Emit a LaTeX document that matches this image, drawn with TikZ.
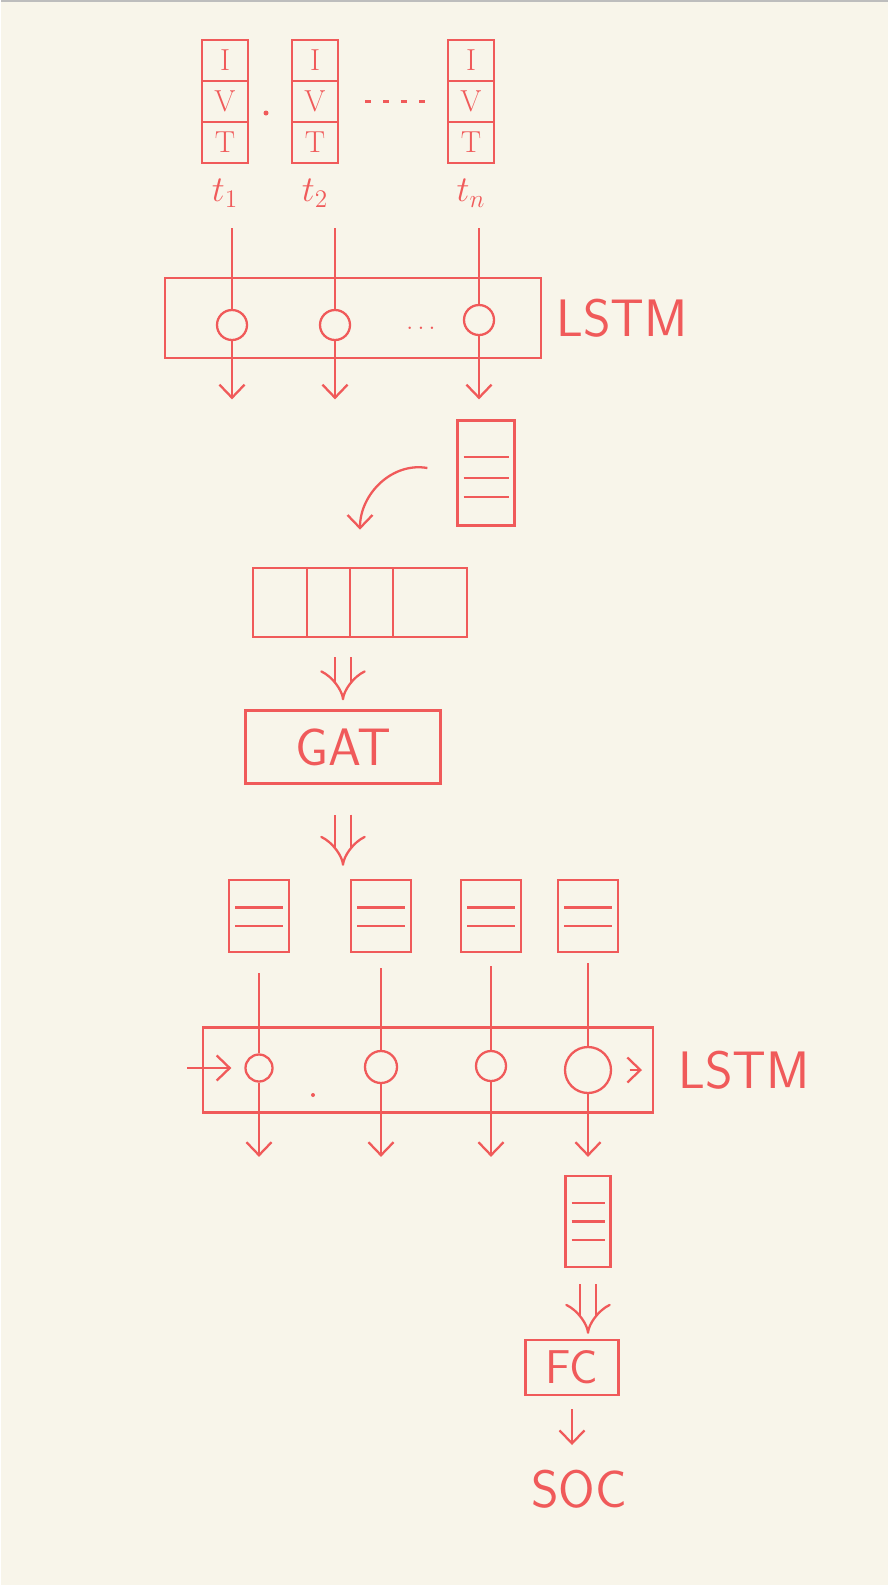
\documentclass[tikz,border=0pt]{standalone}
\usepackage{fontspec}
\usetikzlibrary{arrows.meta,positioning,fit,calc}
\definecolor{pen}{HTML}{F05A5A}
\definecolor{paper}{HTML}{F8F5EA}
\definecolor{rim}{HTML}{BDBDBD}
\tikzset{
  ln/.style={draw=pen,line width=1.3pt},
  arr/.style={ln,-{Straight Barb[length=2.6mm,width=5mm]}},
  dbl/.style={draw=pen,line width=1.3pt,double=paper,double distance=8pt,-{Implies[length=4.5mm,width=10mm]}},
  cell/.style={ln,minimum width=9.2mm,minimum height=8.2mm,inner sep=0pt,outer sep=0pt,text=pen,font=\LARGE},
  rowc/.style={ln,minimum height=13.8mm,inner sep=0pt,outer sep=0pt},
  blk/.style={ln,inner sep=0pt},
  unit/.style={ln,circle,minimum size=6mm,inner sep=0pt},
  lbl/.style={text=pen,font=\huge},
  hand/.style={text=pen,inner sep=0pt,font=\sffamily\fontsize{30}{36}\selectfont},
  speck/.style={circle,fill=pen,inner sep=0pt,minimum size=1mm},
  listbox/.style={ln,minimum width=12mm,minimum height=14.4mm,inner sep=0pt,
    path picture={\foreach \f in {#1}
      \draw[ln] ($(path picture bounding box.north west)!\f!(path picture bounding box.south west)+(1.2mm,0mm)$)
        -- ($(path picture bounding box.north east)!\f!(path picture bounding box.south east)+(-1.2mm,0mm)$);}},
}
\begin{document}
\begin{tikzpicture}[x=0.2mm,y=-0.2mm]
  \fill[paper] (0,0) rectangle (887,1585);
  \draw[rim,line width=0.4mm] (0,1) -- (887,1);

  % I/V/T per time step
  \node[cell] (cur1) at (224,60.5) {I};
  \node[cell,below=0pt of cur1] (vol1) {V};
  \node[cell,below=0pt of vol1] (tmp1) {T};
  \node[cell] (cur2) at (314,60.5) {I};
  \node[cell,below=0pt of cur2] (vol2) {V};
  \node[cell,below=0pt of vol2] (tmp2) {T};
  \node[cell] (curn) at (470,60.5) {I};
  \node[cell,below=0pt of curn] (voln) {V};
  \node[cell,below=0pt of voln] (tmpn) {T};
  \node[lbl,below=2mm of tmp1] (t1) {$t_1$};
  \node[lbl,below=2mm of tmp2] (t2) {$t_2$};
  \node[lbl,below=2mm of tmpn] (tn) {$t_n$};
  \node[speck] (gap) at (265,113) {};
  \draw[ln,dash pattern=on 1.2mm off 2.4mm,shorten <=5.4mm,shorten >=4mm] (vol2.east) -- (voln.west);

  % first LSTM
  \node[blk,minimum width=75.2mm,minimum height=16mm] (lstmA) at (352,318) {};
  \node[hand,right=2.8mm of lstmA] (labA) {LSTM};
  \node[unit] (a1) at (231,325) {};
  \node[unit] (a2) at (334,325) {};
  \node[unit] (an) at (478,320) {};
  \node[lbl,font=\Large] (adots) at (420,328) {$\ldots$};
  \draw[ln,shorten <=3mm] (a1 |- t1.south) -- (a1);
  \draw[ln,shorten <=3mm] (a2 |- t2.south) -- (a2);
  \draw[ln,shorten <=3mm] (an |- tn.south) -- (an);

  \node[listbox={0.35,0.55,0.73},minimum width=11.4mm,minimum height=21mm] (hA) at (485,473) {};
  \draw[arr,shorten >=4mm] (a1) -- (a1 |- hA.north);
  \draw[arr,shorten >=4mm] (a2) -- (a2 |- hA.north);
  \draw[arr,shorten >=4mm] (an) -- (an |- hA.north);

  % reshaped row
  \node[rowc,minimum width=10.8mm] (r1) at (279,602.5) {};
  \node[rowc,minimum width=8.6mm,right=0pt of r1] (r2) {};
  \node[rowc,minimum width=8.6mm,right=0pt of r2] (r3) {};
  \node[rowc,minimum width=14.8mm,right=0pt of r3] (r4) {};
  \node[fit=(r1)(r4),inner sep=0pt] (row) {};
  \draw[arr] ([shift={(-29,-5)}]hA.west) to[out=170,in=90] ([yshift=7.6mm]row.north);

  % GAT
  \node[blk,hand,minimum width=39mm,minimum height=14.6mm] (gat) at (342,747) {GAT};
  \draw[dbl,shorten <=4mm,shorten >=1.8mm] (gat.north |- row.south) -- (gat.north);

  \node[listbox={0.38,0.64}] (g1) at (258,916) {};
  \node[listbox={0.38,0.64}] (g2) at (380,916) {};
  \node[listbox={0.38,0.64}] (g3) at (490,916) {};
  \node[listbox={0.38,0.64}] (g4) at (587,916) {};
  \draw[dbl,shorten <=6mm,shorten >=2.6mm] (gat.south) -- (gat.south |- g2.north);

  % second LSTM
  \node[blk,minimum width=90mm,minimum height=17mm] (lstmB) at (427,1070) {};
  \node[hand,right=4.8mm of lstmB] (labB) {LSTM};
  \node[unit,minimum size=5.4mm] (b1) at (258,1068) {};
  \node[unit,minimum size=6.4mm] (b2) at (380,1067) {};
  \node[unit] (b3) at (490,1066) {};
  \node[unit,minimum size=9.2mm] (b4) at (587,1070) {};
  \node[speck,minimum size=0.8mm] (spk) at (312,1095) {};
  \coordinate (h0) at (186,1068);
  \coordinate (hT) at (641,1070);
  \draw[arr,shorten >=2.6mm] (h0) -- (b1);
  \draw[arr,shorten <=3.5mm] (b4) -- (hT);
  \draw[ln,shorten <=4mm] (g1) -- (b1);
  \draw[ln,shorten <=3mm] (g2) -- (b2);
  \draw[ln,shorten <=2.6mm] (g3) -- (b3);
  \draw[ln,shorten <=2mm] (g4) -- (b4);

  \node[listbox={0.3,0.5,0.7},minimum width=9mm,minimum height=18.2mm] (fin) at (587,1221.5) {};
  \draw[arr,shorten >=3.6mm] (b1) -- (b1 |- fin.north);
  \draw[arr,shorten >=3.6mm] (b2) -- (b2 |- fin.north);
  \draw[arr,shorten >=3.6mm] (b3) -- (b3 |- fin.north);
  \draw[arr,shorten >=3.6mm] (b4) -- (fin);

  % head
  \node[blk,hand,font=\sffamily\fontsize{27}{32}\selectfont,minimum width=18.6mm,minimum height=11mm] (fc) at (571,1367.5) {FC};
  \draw[dbl,shorten <=3.2mm,shorten >=1mm] (fin.south) -- (fin.south |- fc.north);
  \node[hand,anchor=north] (soc) at (578,1470) {SOC};
  \draw[arr,shorten <=2.6mm,shorten >=5mm] (fc.south) -- (fc.south |- soc.north);
\end{tikzpicture}
\end{document}
